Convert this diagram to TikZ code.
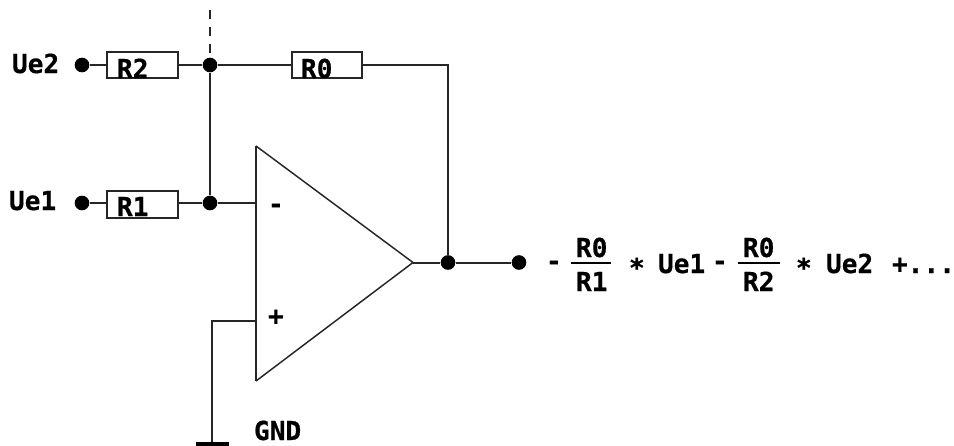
\documentclass[tikz,border=0pt]{standalone}
\usepackage{fontspec}
\setmainfont{DejaVu Sans Mono}[BoldFont={DejaVu Sans Mono Bold},BoldFeatures={FakeBold=0.6}]
\tikzset{
  wire/.style={line width=1.5pt,black!85},
  resbox/.style={draw=black!85,line width=1.5pt,fill=white,rectangle,minimum width=53pt,minimum height=20pt,inner sep=0pt},
  dotn/.style={circle,fill=black,draw=none,minimum size=11pt,inner sep=0pt},
  lab/.style={anchor=base west,inner sep=0pt,outer sep=0pt,font=\fontsize{19.6pt}{19.6pt}\selectfont\bfseries},
}
\begin{document}
\begin{tikzpicture}[x=0.75pt,y=-0.75pt]
\useasboundingbox (0,0) rectangle (954,446);
% resistors
\node[resbox] (R2) at (142.5,65) {};
\node[resbox] (R0) at (327,65) {};
\node[resbox] (R1) at (142.5,204.5) {};
% dots
\node[dotn] (in2) at (82,65) {};
\node[dotn] (in1) at (82,203) {};
\node[dotn] (j2) at (210,65) {};
\node[dotn] (j1) at (210,203) {};
\node[dotn] (jo) at (448,262.5) {};
\node[dotn] (out) at (519,262.5) {};
% helper coordinates
\coordinate (ta) at (256,146);
\coordinate (tb) at (256,381);
\coordinate (tc) at (413,262.5);
\coordinate (minus) at (256,203);
\coordinate (plus) at (256,321);
\coordinate (corner) at (448,65);
\coordinate (gc) at (212,321);
\coordinate (g) at (212,443);
\coordinate (gl) at (196,444);
\coordinate (gr) at (229,444);
\coordinate (top) at (210,10);
% op amp
\draw[line width=1.1pt,black!85,line join=miter] (ta) -- (tc) -- (tb);
\draw[wire] (ta) -- (tb);
% connectors
\draw[wire] (in2) -- (R2);
\draw[wire] (R2) -- (j2);
\draw[wire] (j2) -- (R0);
\draw[wire] (R0) -- (corner) -- (jo);
\draw[wire] (in1) -- (R1.west |- in1);
\draw[wire] (R1.east |- j1) -- (j1);
\draw[wire] (j1) -- (minus);
\draw[wire] (j2) -- (j1);
\draw[wire] (tc) -- (jo) -- (out);
\draw[wire] (plus) -- (gc) -- (g);
\draw[line width=2.4pt,black] (gl) -- (gr);
\draw[wire,dash pattern=on 6.75pt off 6pt] (top) -- (j2);
% labels
\node[lab] (tUe2) at (12,73) {Ue2};
\node[lab] (tUe1) at (9,210) {Ue1};
\node[lab] (tR2) at (117,78) {R2};
\node[lab] (tR0) at (301,78) {R0};
\node[lab] (tR1) at (117,216) {R1};
\node[lab] (tminus) at (268,213) {-};
\node[lab] (tplus) at (268,325) {+};
\node[lab] (tgnd) at (254,440) {GND};
% formula
\node[lab] (f1) at (546,270) {-};
\node[lab] (n1) at (576,257) {R0};
\node[lab] (d1) at (576,291) {R1};
\draw[line width=2.2pt,black] (571,263) -- (611,263);
\node[lab] (s1) at (629,277) {*};
\node[lab] (u1) at (658,273) {Ue1};
\node[lab] (f2) at (712,270) {-};
\node[lab] (n2) at (743,257) {R0};
\node[lab] (d2) at (743,291) {R2};
\draw[line width=2.2pt,black] (738,263) -- (780,263);
\node[lab] (s2) at (796,277) {*};
\node[lab] (u2) at (826,273) {Ue2};
\node[lab] (f3) at (892,273) {+...};
\end{tikzpicture}
\end{document}
